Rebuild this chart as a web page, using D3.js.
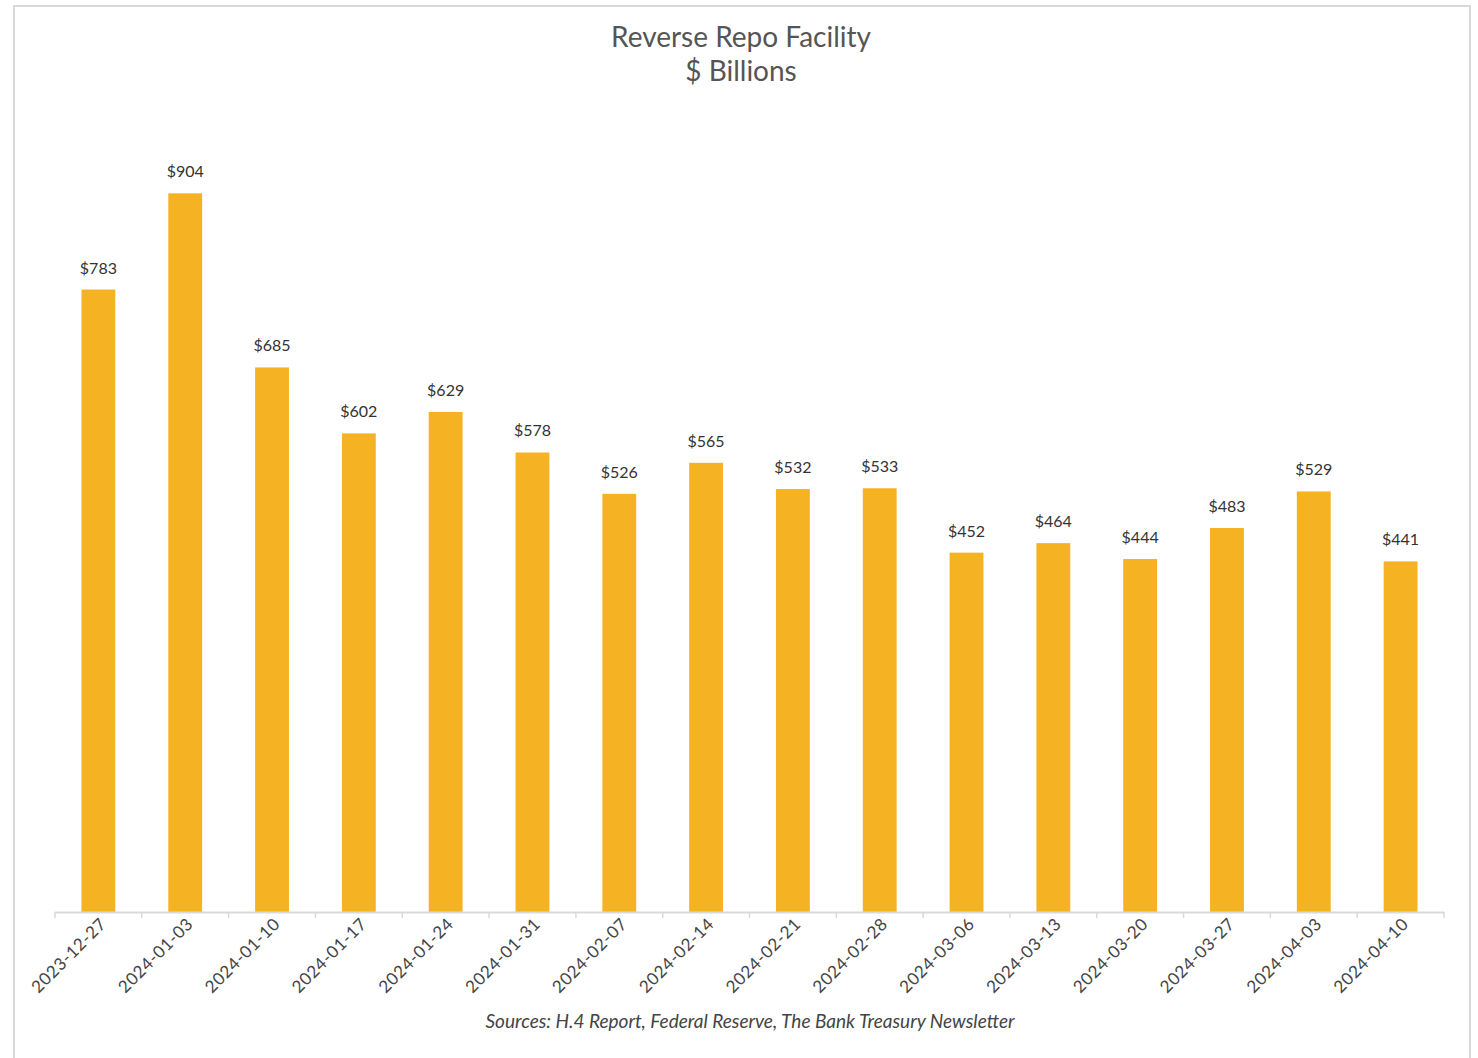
<!DOCTYPE html>
<html>
<head>
<meta charset="utf-8">
<script src="https://cdn.jsdelivr.net/npm/d3@7"></script>
<style>
  html, body { margin: 0; padding: 0; background: #fff; }
  svg { display: block; }
</style>
</head>
<body>
<svg id="chart" width="1478" height="1058"></svg>
<script>
// Weekly overnight reverse repo balances, $ billions
const dates = ["2023-12-27","2024-01-03","2024-01-10","2024-01-17","2024-01-24","2024-01-31",
  "2024-02-07","2024-02-14","2024-02-21","2024-02-28","2024-03-06","2024-03-13",
  "2024-03-20","2024-03-27","2024-04-03","2024-04-10"];
const balances = [783, 904, 685, 602, 629, 578, 526, 565, 532, 533, 452, 464, 444, 483, 529, 441];
const titleLines = ["Reverse Repo Facility", "$ Billions"];
const sourceNote = "Sources: H.4 Report, Federal Reserve, The Bank Treasury Newsletter";

const svg = d3.select("#chart");
const font = "Lato, 'Open Sans', sans-serif";

// outer frame
svg.append("rect")
  .attr("x", 14).attr("y", 6).attr("width", 1456).attr("height", 1060)
  .attr("fill", "#fff").attr("stroke", "#d9d9d9").attr("stroke-width", 2);

const x = d3.scaleBand().domain(dates).range([55, 1444]).paddingInner(0.61).paddingOuter(0.305);
const y = d3.scaleLinear().domain([0, 1000]).range([912, 117]);

// title
svg.append("g").selectAll("text").data(titleLines).join("text")
  .attr("x", 741).attr("y", (d, i) => 47 + i * 34)
  .attr("text-anchor", "middle")
  .attr("font-family", font).attr("font-size", 28).attr("fill", "#555")
  .text(d => d);

// bars
svg.append("g").selectAll("rect").data(balances).join("rect")
  .attr("x", (d, i) => x(dates[i]))
  .attr("width", x.bandwidth())
  .attr("y", d => y(d))
  .attr("height", d => y(0) - y(d))
  .attr("fill", "#F5B324");

// value labels
svg.append("g").selectAll("text").data(balances).join("text")
  .attr("x", (d, i) => x(dates[i]) + x.bandwidth() / 2)
  .attr("y", d => y(d) - 16)
  .attr("text-anchor", "middle")
  .attr("font-family", font).attr("font-size", 16).attr("fill", "#333")
  .text(d => "$" + d);

// category axis: ticks on category boundaries, labels at centres
const step = x.step();
const axisG = svg.append("g");
axisG.append("line")
  .attr("x1", 55).attr("x2", 1444).attr("y1", 912.5).attr("y2", 912.5)
  .attr("stroke", "#d9d9d9").attr("stroke-width", 2);
axisG.selectAll("line.tick").data(d3.range(dates.length + 1)).join("line")
  .attr("class", "tick")
  .attr("x1", i => 55 + i * step).attr("x2", i => 55 + i * step)
  .attr("y1", 912).attr("y2", 918)
  .attr("stroke", "#d9d9d9").attr("stroke-width", 1.5);
axisG.selectAll("text").data(dates).join("text")
  .attr("transform", d => `translate(${x(d) + x.bandwidth() / 2 + 9},${925}) rotate(-45)`)
  .attr("text-anchor", "end")
  .attr("font-family", font).attr("font-size", 17).attr("letter-spacing", 0.6)
  .attr("fill", "#444")
  .text(d => d);

// source note
svg.append("text")
  .attr("x", 750).attr("y", 1028)
  .attr("text-anchor", "middle")
  .attr("font-family", font).attr("font-style", "italic")
  .attr("font-size", 19).attr("fill", "#444")
  .text(sourceNote);
</script>
</body>
</html>
